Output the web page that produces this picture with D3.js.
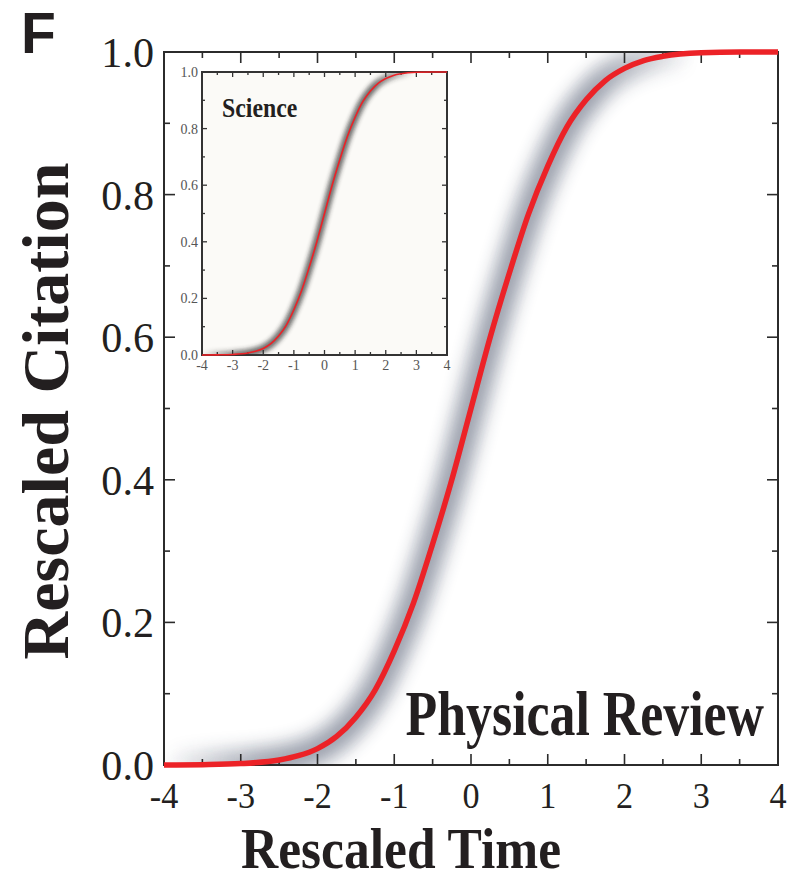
<!DOCTYPE html>
<html><head><meta charset="utf-8">
<script src="https://cdn.jsdelivr.net/npm/d3@7"></script>
<style>body{margin:0;background:#fff}svg{display:block}</style>
</head><body>
<script>
// ---- data ----
const timeValues = [-4,-3.5,-3,-2.5,-2.25,-2,-1.75,-1.5,-1.25,-1,-0.75,-0.5,-0.25,0,0.25,0.5,0.75,1,1.25,1.5,1.75,2,2.25,2.5,3,3.5,4];
const citationValues = [0,0.0005,0.002,0.007,0.013,0.023,0.04,0.067,0.105,0.16,0.227,0.31,0.40,0.5,0.60,0.69,0.773,0.84,0.895,0.933,0.96,0.977,0.988,0.994,0.999,1,1];
const xTicks = [-4,-3,-2,-1,0,1,2,3,4];
const yTicks = [0,0.2,0.4,0.6,0.8,1.0];
const panelLabel = "F";
const xTitle = "Rescaled Time";
const yTitle = "Rescaled Citation";
const mainName = "Physical Review";
const insetName = "Science";

const W = 789, H = 881;
const ink = "#231f20";
const red = "#ec2227";
const svg = d3.select("body").append("svg").attr("width", W).attr("height", H);
const defs = svg.append("defs");
defs.append("filter").attr("id","blurBig").attr("x","-50%").attr("y","-50%").attr("width","200%").attr("height","200%")
  .append("feGaussianBlur").attr("stdDeviation", 8);
defs.append("filter").attr("id","blurSmall").attr("x","-50%").attr("y","-50%").attr("width","200%").attr("height","200%")
  .append("feGaussianBlur").attr("stdDeviation", 2.2);

const data = timeValues.map((t,i)=>({t, c: citationValues[i]}));
const fmt = d3.format(".1f");

function panel(cfg){
  const {x0,x1,y0,y1} = cfg;
  const x = d3.scaleLinear().domain([-4,4]).range([x0,x1]);
  const y = d3.scaleLinear().domain([0,1]).range([y1,y0]);
  const g = svg.append("g");
  const clipId = "clip"+cfg.id;
  defs.append("clipPath").attr("id",clipId).append("rect")
    .attr("x",x0).attr("y",y0).attr("width",x1-x0).attr("height",y1-y0);
  // band fades out where the curve is flat
  const gradId = "grad"+cfg.id;
  const grad = defs.append("linearGradient").attr("id",gradId).attr("gradientUnits","userSpaceOnUse")
    .attr("x1",x0).attr("x2",x1).attr("y1",0).attr("y2",0);
  [[-4,0],[-3.4,0.45],[-2.7,0.95],[-2,1],[1.6,1],[2.3,0.5],[2.9,0]].forEach(([t,o])=>{
    grad.append("stop").attr("offset",(t+4)/8).attr("stop-color",cfg.bandColor).attr("stop-opacity",o);
  });
  g.append("rect").attr("x",x0).attr("y",y0).attr("width",x1-x0).attr("height",y1-y0)
    .attr("fill",cfg.bg);
  const line = d3.line().x(d=>x(d.t)).y(d=>y(d.c)).curve(d3.curveMonotoneX);
  // density band
  const band = g.append("g").attr("clip-path",`url(#${clipId})`);
  band.append("path").datum(data).attr("d",line).attr("fill","none")
    .attr("stroke",`url(#${gradId})`).attr("stroke-width",cfg.bandWidth).attr("opacity",cfg.bandOpacity)
    .attr("filter",`url(#${cfg.blur})`);
  band.append("path").datum(data).attr("d",line).attr("fill","none")
    .attr("stroke",`url(#${gradId})`).attr("stroke-width",cfg.bandWidth*0.4).attr("opacity",cfg.bandOpacity*1.1)
    .attr("filter",`url(#${cfg.blur})`);
  // axes with inward ticks on all sides
  const minorX = d3.range(-3.5,4,1);
  const minorY = d3.range(0.1,1,0.2);
  const tk = (sel, vals, len, side) => {
    vals.forEach(v=>{
      if(side==="b") sel.append("line").attr("x1",x(v)).attr("x2",x(v)).attr("y1",y1).attr("y2",y1-len);
      if(side==="t") sel.append("line").attr("x1",x(v)).attr("x2",x(v)).attr("y1",y0).attr("y2",y0+len);
      if(side==="l") sel.append("line").attr("y1",y(v)).attr("y2",y(v)).attr("x1",x0).attr("x2",x0+len);
      if(side==="r") sel.append("line").attr("y1",y(v)).attr("y2",y(v)).attr("x1",x1).attr("x2",x1-len);
    });
  };
  const ticks = g.append("g").attr("stroke",cfg.frame).attr("stroke-width",cfg.tickW);
  ["b","t"].forEach(s=>{tk(ticks,xTicks,cfg.major,s);tk(ticks,minorX,cfg.minor,s);});
  ["l","r"].forEach(s=>{tk(ticks,yTicks,cfg.major,s);tk(ticks,minorY,cfg.minor,s);});
  g.append("rect").attr("x",x0).attr("y",y0).attr("width",x1-x0).attr("height",y1-y0)
    .attr("fill","none").attr("stroke",cfg.frame).attr("stroke-width",cfg.frameW);
  // red curve
  g.append("path").datum(data).attr("d",line).attr("fill","none")
    .attr("stroke",red).attr("stroke-width",cfg.lineW).attr("stroke-linecap","butt");
  // tick labels
  const xl = g.append("g");
  xTicks.forEach(v=>{
    xl.append("text").attr("transform",`translate(${x(v)},${cfg.xLabY}) scale(${cfg.xLabSX},1)`)
      .attr("text-anchor","middle").attr("font-family","Liberation Serif, Times New Roman, serif")
      .attr("font-size",cfg.xLabSize).attr("fill",cfg.labColor).text(v);
  });
  yTicks.forEach(v=>{
    xl.append("text").attr("transform",`translate(${x0-cfg.yLabGap},${y(v)}) scale(${cfg.yLabSX},1)`)
      .attr("text-anchor","end").attr("dy","0.35em").attr("font-family","Liberation Serif, Times New Roman, serif")
      .attr("font-size",cfg.yLabSize).attr("fill",cfg.labColor).text(fmt(v));
  });
  return {x,y,g};
}

const main = panel({id:"main",x0:164,x1:778,y0:52,y1:765,bg:"#ffffff",bandColor:"#27324d",bandWidth:36,bandOpacity:0.28,
  blur:"blurBig",frame:"#2b2b2b",frameW:2,tickW:1.6,major:11,minor:6,lineW:5.5,
  xLabY:808,xLabSize:36,xLabSX:0.95,yLabGap:10,yLabSize:43,yLabSX:0.98,labColor:ink});

// main plot texts
svg.append("text").attr("transform","translate(764,735) scale(0.81,1)").attr("text-anchor","end")
  .attr("font-family","Liberation Serif, Times New Roman, serif").attr("font-weight","bold")
  .attr("font-size",64).attr("fill",ink).text(mainName);
svg.append("text").attr("transform","translate(401,868) scale(0.92,1)").attr("text-anchor","middle")
  .attr("font-family","Liberation Serif, Times New Roman, serif").attr("font-weight","bold")
  .attr("font-size",56).attr("fill",ink).text(xTitle);
svg.append("text").attr("transform","translate(68,411) rotate(-90)").attr("text-anchor","middle")
  .attr("font-family","Liberation Serif, Times New Roman, serif").attr("font-weight","bold")
  .attr("font-size",66).attr("fill",ink).text(yTitle);
svg.append("text").attr("x",21).attr("y",53)
  .attr("font-family","Liberation Sans, Arial, sans-serif").attr("font-weight","bold")
  .attr("font-size",57).attr("fill",ink).text(panelLabel);

// inset
const inset = panel({id:"inset",x0:202,x1:447,y0:72,y1:355,bg:"#fbfaf7",bandColor:"#222222",bandWidth:9,bandOpacity:0.45,
  blur:"blurSmall",frame:"#333333",frameW:2,tickW:1.3,major:5,minor:3,lineW:1.6,
  xLabY:370,xLabSize:14,xLabSX:1,yLabGap:4,yLabSize:14,yLabSX:1,labColor:"#555555"});
svg.append("text").attr("transform","translate(222,117) scale(0.85,1)")
  .attr("font-family","Liberation Serif, Times New Roman, serif").attr("font-weight","bold")
  .attr("font-size",28).attr("fill",ink).text(insetName);
</script>
</body></html>
